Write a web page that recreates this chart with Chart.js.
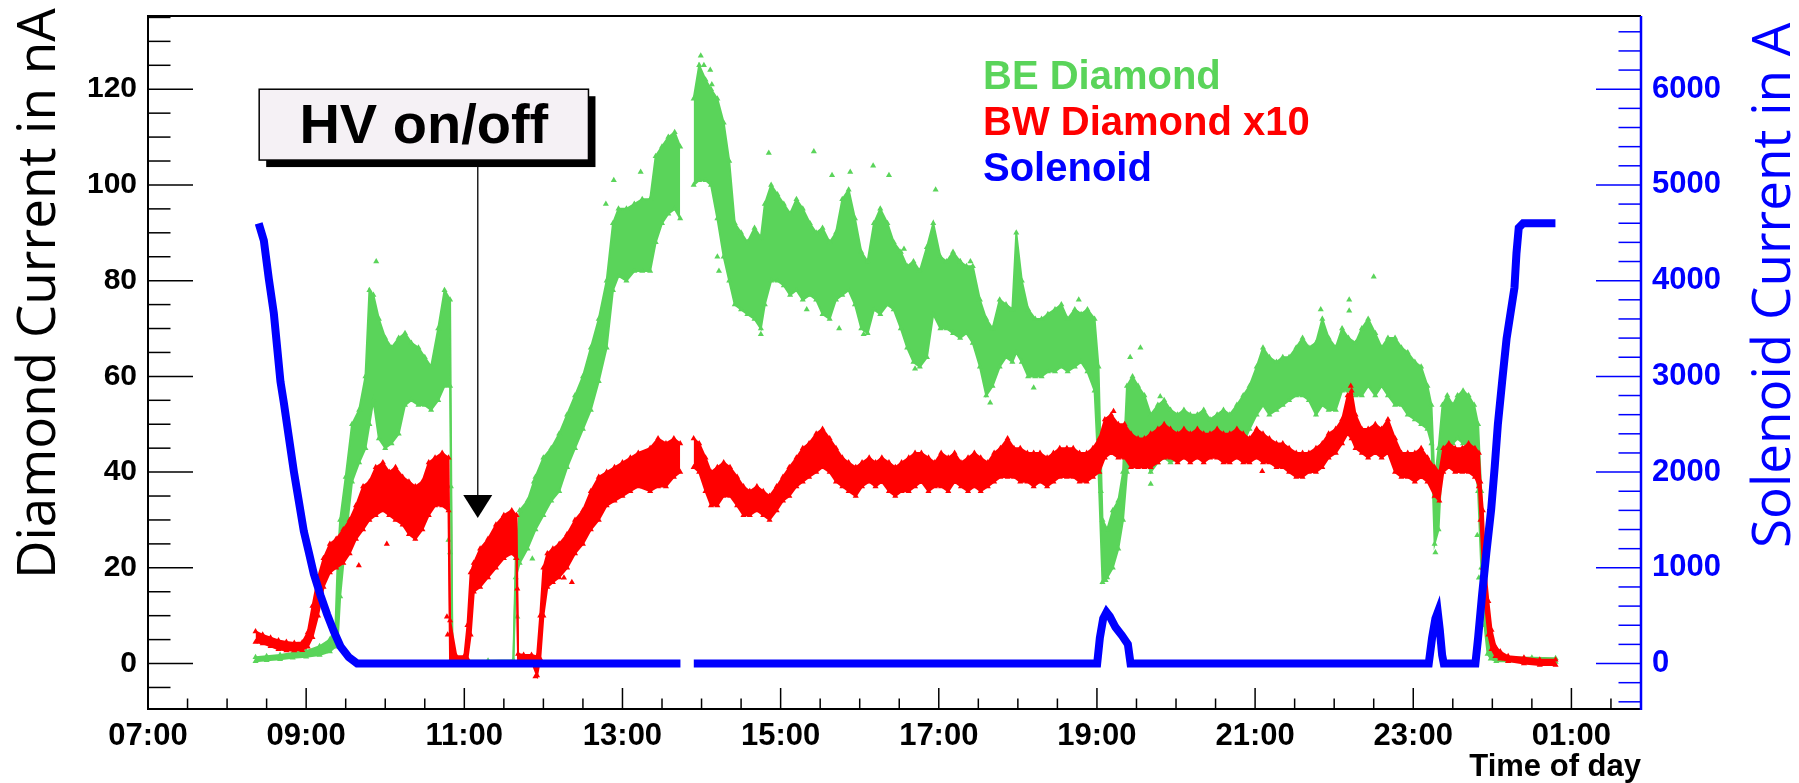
<!DOCTYPE html>
<html>
<head>
<meta charset="utf-8">
<title>Diamond and solenoid currents</title>
<script src="https://cdn.jsdelivr.net/npm/chart.js@4.4.1/dist/chart.umd.min.js"></script>
<style>
  html, body { margin: 0; padding: 0; background: #fff; }
  #wrap { width: 1799px; height: 783px; position: relative; }
</style>
</head>
<body>
<div id="wrap"><canvas id="chart"></canvas></div>
<script>
// ===== DATA =====
// time is in hours of the day, values past 24 belong to the next day
const hourTicks  = [7, 9, 11, 13, 15, 17, 19, 21, 23, 25];
const hourLabels = ["07:00", "09:00", "11:00", "13:00", "15:00", "17:00", "19:00", "21:00", "23:00", "01:00"];
const nATicks    = [0, 20, 40, 60, 80, 100, 120];
const ampTicks   = [0, 1000, 2000, 3000, 4000, 5000, 6000];

// BE diamond (nA): band of readings, lower and upper edge
const beTime = [8.36, 8.50, 8.67, 8.83, 9.00, 9.17, 9.30, 9.37, 9.40, 9.43, 9.50, 9.58, 9.67, 9.75, 9.80, 9.85, 9.92,
  10.00, 10.08, 10.17, 10.25, 10.33, 10.42, 10.50, 10.58, 10.67, 10.75, 10.82, 10.85, 11.00, 11.30, 11.62,
  11.65, 11.70, 11.80, 11.90, 12.00, 12.10, 12.20, 12.30, 12.40, 12.50, 12.60, 12.70, 12.80, 12.88, 12.95,
  13.05, 13.15, 13.25, 13.35, 13.42, 13.50, 13.58, 13.66, 13.73, 13.81, 13.90, 13.97, 14.05, 14.12, 14.20,
  14.28, 14.35, 14.42, 14.50, 14.58, 14.67, 14.75, 14.80, 14.88, 14.96, 15.04, 15.12, 15.20, 15.28, 15.37,
  15.45, 15.53, 15.62, 15.70, 15.78, 15.86, 15.94, 16.02, 16.10, 16.18, 16.26, 16.35, 16.43, 16.52, 16.60,
  16.68, 16.76, 16.85, 16.93, 17.02, 17.10, 17.18, 17.27, 17.35, 17.43, 17.52, 17.60, 17.68, 17.77, 17.85,
  17.93, 17.98, 18.05, 18.13, 18.22, 18.30, 18.38, 18.47, 18.55, 18.63, 18.72, 18.80, 18.88, 18.97, 19.02,
  19.07, 19.13, 19.20, 19.27, 19.33, 19.38, 19.45, 19.52, 19.60, 19.68, 19.77, 19.85, 19.93, 20.02, 20.10,
  20.18, 20.27, 20.35, 20.43, 20.52, 20.60, 20.68, 20.77, 20.85, 20.93, 21.02, 21.10, 21.18, 21.27, 21.35,
  21.43, 21.52, 21.60, 21.68, 21.77, 21.85, 21.93, 22.02, 22.10, 22.18, 22.27, 22.35, 22.43, 22.52, 22.60,
  22.68, 22.77, 22.85, 22.93, 23.02, 23.10, 23.18, 23.23, 23.27, 23.32, 23.37, 23.43, 23.50, 23.56, 23.63,
  23.70, 23.77, 23.82, 23.86, 23.90, 23.94, 23.98, 24.05, 24.20, 24.50, 24.80];
const beLow = [0.5, 0.7, 0.9, 1.2, 1.4, 1.8, 2.5, 3.5, 5, 14, 26, 38, 42, 45, 50, 55, 47,
  45, 46, 48, 54, 55, 54, 54, 53, 55, 58, 58, 0, 0, 0, 0.1,
  18, 21, 24, 28, 31, 34, 36, 41, 45, 49, 53, 59, 66, 78, 81,
  80, 82, 82, 82, 88, 92, 94, 95, 93, null, 100, 101, 101, 100, 93,
  85, 80, 75, 74, 73, 72, 70, 75, 80, 80, 79, 77, 78, 76, 77,
  76, 73, 72, 76, 77, 78, 75, 70, 69, 74, 73, 75, 74, 70, 66,
  63, 62, 64, 73, 70, 70, 69, 68, 69, 67, 62, 56, 58, 62, 64,
  63, 65, 63, 60, 60, 60, 61, 61, 62, 61, 62, 63, 61, 57, 40,
  17, 18, 20, 24, 30, 40, 45, 46, 44, 40, 42, 43, 42, 43, 44,
  44, 45, 45, 44, 44, 44, 45, 44, 46, 49, 52, 54, 52, 53, 54,
  55, 56, 56, 55, 52, 54, 53, 53, 57, 57, 56, 56, 58, 56, 58,
  56, 54, 54, 52, 51, 50, 49, 46, 25, 28, 45, 46, 46, 47, 46,
  46, 44, 36, 20, 8, 2, 1, 0.5, 0.5, 0.4, 0.3];
const beHigh = [1.3, 1.5, 1.8, 2.2, 2.6, 3.6, 5.0, 7.5, 22, 30, 39, 50, 53, 60, 78, 77, 72,
  68, 66, 68, 69, 67, 66, 64, 62, 70, 78, 76, 0.6, 0.6, 0.6, 0.7,
  22, 32, 34, 39, 43, 45, 48, 52, 56, 60, 66, 72, 80, 92, 95,
  95, 96, 97, 97, 106, 108, 110, 111, 108, null, 118, 125, 122, 120, 118,
  113, 105, 92, 90, 88, 91, 89, 96, 100, 98, 96, 94, 97, 95, 92,
  90, 91, 88, 90, 97, 99, 93, 86, 84, 92, 95, 92, 88, 86, 83,
  84, 82, 87, 92, 85, 84, 86, 84, 83, 83, 76, 72, 70, 76, 75,
  74, 90, 80, 74, 72, 72, 73, 74, 75, 72, 74, 73, 74, 72, 62,
  30, 28, 32, 34, 40, 58, 60, 58, 56, 52, 54, 55, 53, 52, 53,
  52, 52, 53, 51, 52, 53, 52, 54, 56, 58, 62, 66, 64, 63, 64,
  64, 66, 68, 66, 67, 72, 68, 66, 70, 68, 67, 70, 72, 69, 66,
  68, 68, 66, 65, 63, 62, 58, 54, 38, 45, 54, 56, 54, 56, 57,
  56, 54, 50, 36, 20, 10, 3, 1.8, 1.3, 1.2, 1.1];
const beSpotTime = [9.886, 10.78, 10.83, 10.80, 10.82, 11.67, 11.88, 11.86, 12.79, 12.89, 13.23, 13.99, 14.03,
  14.11, 14.13, 14.20, 14.22, 14.85, 15.42, 15.65, 15.88, 16.17, 16.37, 14.75, 15.33, 15.74, 16.05, 16.96,
  16.56, 17.27, 17.40, 18.77, 17.65, 18.20, 16.70, 19.11, 19.05, 19.42, 19.55, 22.50, 22.19, 22.19, 21.83,
  19.68, 19.80, 23.28, 23.27, 23.81, 23.83, 23.85];
const beSpotVal = [84, 33.5, 37, 25.8, 23.2, 9.8, 38, 21.9, 96, 101, 102.7, 127, 125,
  124, 121, 85, 82, 106.7, 107, 102, 102.7, 104, 102, 68.8, 74, 70, 68.8, 99,
  86.6, 84, 84, 76, 54.5, 57.6, 61.6, 17.4, 36, 64, 66, 80.8, 76, 73.7, 74,
  37.5, 55.8, 23.2, 34.8, 26.8, 17.9, 11.6];

// BW diamond, scaled x10 (nA)
const bwTime = [8.36, 8.45, 8.55, 8.65, 8.75, 8.85, 8.95, 9.02, 9.08, 9.15, 9.22, 9.30, 9.38, 9.47, 9.55, 9.63,
  9.72, 9.80, 9.88, 9.97, 10.05, 10.13, 10.22, 10.30, 10.38, 10.47, 10.55, 10.63, 10.72, 10.80, 10.82, 10.90,
  11.00, 11.04, 11.08, 11.12, 11.20, 11.30, 11.40, 11.50, 11.60, 11.66, 11.68, 11.75, 11.85, 11.92, 11.96,
  12.00, 12.05, 12.12, 12.20, 12.30, 12.40, 12.50, 12.60, 12.70, 12.80, 12.90, 13.00, 13.10, 13.20, 13.35,
  13.45, 13.55, 13.65, 13.73, 13.81, 13.90, 13.97, 14.05, 14.12, 14.20, 14.28, 14.36, 14.45, 14.53, 14.61,
  14.70, 14.78, 14.86, 14.95, 15.03, 15.11, 15.20, 15.28, 15.36, 15.45, 15.53, 15.62, 15.70, 15.78, 15.86,
  15.95, 16.03, 16.12, 16.20, 16.28, 16.37, 16.45, 16.53, 16.62, 16.70, 16.78, 16.87, 16.95, 17.03, 17.12,
  17.20, 17.28, 17.37, 17.45, 17.53, 17.62, 17.70, 17.78, 17.87, 17.95, 18.03, 18.12, 18.20, 18.28, 18.37,
  18.45, 18.53, 18.62, 18.70, 18.78, 18.87, 18.95, 19.03, 19.10, 19.18, 19.27, 19.35, 19.43, 19.52, 19.60,
  19.68, 19.77, 19.85, 19.93, 20.02, 20.10, 20.18, 20.27, 20.35, 20.43, 20.52, 20.60, 20.68, 20.77, 20.85,
  20.93, 21.02, 21.10, 21.18, 21.27, 21.35, 21.43, 21.52, 21.60, 21.68, 21.77, 21.85, 21.93, 22.02, 22.10,
  22.17, 22.22, 22.27, 22.35, 22.43, 22.52, 22.60, 22.68, 22.77, 22.85, 22.93, 23.02, 23.10, 23.18, 23.27,
  23.33, 23.38, 23.45, 23.53, 23.62, 23.70, 23.78, 23.83, 23.85, 23.88, 23.91, 23.95, 23.99, 24.04, 24.10,
  24.20, 24.40, 24.60, 24.80];
const bwLow = [4.5, 4.2, 3.6, 3.0, 2.7, 2.7, 2.8, 3.5, 5.5, 10, 16, 19, 20, 21, 23, 26,
  28, 30, 31, 32, 31, 30, 29, 27, 26, 28, 31, 33, 33, 32, 0.5, 0.3,
  0.3, 1, 6, 15, 16, 18, 20, 22, 23, 22, 0.5, 0.8, 0.5, -2.5, 1,
  10, 16, 17, 18, 20, 23, 25, 28, 30, 33, 34, 35, 36, 37, 36,
  37, 37, 39, 40, null, 41, 40, 36, 33, 33, 35, 35, 33, 31, 31,
  32, 31, 30, 32, 34, 35, 37, 38, 39, 40, 41, 40, 38, 37, 36,
  35, 37, 38, 37, 38, 36, 35, 36, 36, 37, 38, 36, 37, 37, 36,
  38, 37, 36, 37, 36, 37, 38, 39, 39, 39, 38, 38, 37, 38, 37,
  38, 39, 39, 39, 38, 38, 39, 40, 43, 44, 43, 43, 41, 41, 41,
  41, 42, 43, 43, 42, 43, 42, 43, 42, 43, 43, 42, 42, 43, 42,
  42, 43, 42, 42, 41, 41, 40, 39, 39, 40, 40, 41, 43, 44, 46,
  48, 47, 45, 44, 43, 44, 43, 44, 40, 39, 39, 38, 39, 38, 35,
  34, 40, 41, 40, 40, 40, 39, 37, 30, 20, 12, 6, 3, 1.5, 1,
  0.5, 0, -0.3, -0.3];
const bwHigh = [6.7, 6.0, 5.4, 4.8, 4.5, 4.3, 4.4, 6.5, 12, 18, 22, 25, 26, 28, 30, 33,
  37, 38, 41, 42, 40, 41, 39, 38, 37, 38, 42, 43, 44, 43, 9, 1.5,
  1.5, 8, 19, 21, 24, 26, 29, 31, 32, 31, 2, 1.8, 1.8, 1.5, 10,
  20, 23, 24, 25, 27, 30, 32, 36, 39, 40, 41, 42, 43, 44, 45,
  47, 46, 47, 46, null, 47, 46, 43, 40, 41, 42, 41, 39, 37, 36,
  37, 36, 35, 37, 39, 41, 43, 45, 46, 48, 49, 47, 45, 43, 42,
  41, 42, 43, 42, 43, 42, 41, 42, 43, 44, 44, 43, 42, 44, 43,
  44, 42, 43, 44, 43, 42, 44, 45, 47, 45, 45, 44, 44, 44, 43,
  44, 45, 45, 45, 44, 44, 45, 47, 51, 52, 50, 50, 48, 47, 47,
  48, 49, 50, 49, 48, 49, 48, 49, 48, 48, 49, 48, 48, 49, 48,
  47, 49, 48, 47, 46, 46, 45, 44, 44, 44, 45, 46, 48, 49, 51,
  56, 57, 52, 49, 49, 50, 49, 51, 47, 44, 44, 44, 45, 43, 41,
  40, 45, 46, 45, 45, 46, 45, 44, 38, 32, 20, 13, 7, 3.5, 2.5,
  1.5, 1.2, 0.8, 0.8];
const bwSpotTime = [10.78, 10.79, 11.67, 12.26, 12.36, 9.666, 10.02, 19.21, 22.21, 21.09, 11.90];
const bwSpotVal  = [9.8, 6, 15.6, 17.9, 17, 20.5, 25, 52.7, 58, 40.2, -2.7];

// solenoid current (A); null marks the readout gap
const solTime = [8.40, 8.465, 8.528, 8.591, 8.633, 8.675, 8.718, 8.781, 8.844, 8.907, 8.970, 9.034, 9.097,
  9.181, 9.265, 9.35, 9.434, 9.539, 9.645, 13.733, 13.81, 13.902, 19.003, 19.037, 19.079, 19.121, 19.163,
  19.235, 19.319, 19.391, 19.425, 23.196, 23.238, 23.28, 23.31, 23.335, 23.365, 23.386, 23.786, 23.82,
  23.87, 23.925, 23.985, 24.03, 24.07, 24.124, 24.18, 24.28, 24.305, 24.334, 24.39, 24.798];
const solAmp = [4598, 4419, 4018, 3660, 3303, 2946, 2723, 2366, 2009, 1696, 1384, 1161, 937,
  714, 513, 335, 179, 67, 0, 0, null, 0, 0, 268, 469, 536, 491,
  379, 290, 201, 0, 0, 268, 469, 536, 357, 89, 0, 0, 268,
  714, 1161, 1607, 2053, 2500, 2946, 3393, 3928, 4285, 4553, 4600, 4600];

// ===== STYLE =====
const GREEN = "rgb(90,212,90)";
const RED   = "#ff0000";
const BLUE  = "#0000ff";
const TICK_FONT = "'Liberation Sans', Arial, Helvetica, sans-serif";
const TITLE_FONT = "'Open Sans', 'Noto Sans', sans-serif";

function pts(t, v) {
  return t.map((x, i) => ({ x: x, y: v[i] }));
}

function edge(label, t, v, color, order, fill) {
  return {
    label: label, data: pts(t, v), yAxisID: "yL", order: order,
    borderColor: color, backgroundColor: color, borderWidth: 2,
    pointStyle: "triangle", pointRadius: 3.5, pointBackgroundColor: color, pointBorderWidth: 0,
    fill: fill, tension: 0, spanGaps: false
  };
}

function spots(label, t, v, color, order) {
  return {
    label: label, data: pts(t, v), yAxisID: "yL", order: order, showLine: false,
    pointStyle: "triangle", pointRadius: 3.5, pointBackgroundColor: color,
    pointBorderColor: color, pointBorderWidth: 0
  };
}

// ===== FRAME, INNER TICKS, TITLES, LEGEND, NOTE =====
const decor = {
  id: "decor",
  afterDraw(chart) {
    const ctx = chart.ctx;
    const ca = chart.chartArea;
    const xs = chart.scales.x, yl = chart.scales.yL, ya = chart.scales.yA;

    function seg(x1, y1, x2, y2) {
      ctx.beginPath(); ctx.moveTo(x1, y1); ctx.lineTo(x2, y2); ctx.stroke();
    }

    ctx.save();
    ctx.lineWidth = 1.5;
    ctx.strokeStyle = "#000";
    for (let v = -5; v <= 135; v += 5) {
      const y = yl.getPixelForValue(v);
      if (y < ca.top || y > ca.bottom) continue;
      seg(ca.left, y, ca.left + (v % 20 === 0 ? 45 : 22.5), y);
    }
    for (let t = 7; t <= 25.8; t += 0.5) {
      const x = xs.getPixelForValue(t);
      seg(x, ca.bottom, x, ca.bottom - (hourTicks.includes(t) ? 21 : 10.5));
    }
    ctx.strokeStyle = BLUE;
    for (let a = -400; a <= 6700; a += 200) {
      const y = ya.getPixelForValue(a);
      if (y < ca.top || y > ca.bottom) continue;
      seg(ca.right, y, ca.right - (a % 1000 === 0 ? 45 : 22.5), y);
    }

    // frame
    ctx.lineWidth = 2;
    ctx.strokeStyle = "#000";
    ctx.beginPath();
    ctx.moveTo(ca.right, ca.top); ctx.lineTo(ca.left, ca.top);
    ctx.lineTo(ca.left, ca.bottom); ctx.lineTo(ca.right, ca.bottom);
    ctx.stroke();
    ctx.strokeStyle = BLUE;
    ctx.lineWidth = 2.5;
    seg(ca.right, ca.top, ca.right, ca.bottom + 1);

    // axis titles
    ctx.font = "53px " + TITLE_FONT;
    ctx.textAlign = "left";
    ctx.textBaseline = "alphabetic";
    ctx.fillStyle = "#000";
    ctx.save();
    ctx.translate(55, 579);
    ctx.rotate(-Math.PI / 2);
    ctx.fillText("Diamond Current in nA", 0, 0);
    ctx.restore();
    ctx.fillStyle = BLUE;
    ctx.save();
    ctx.translate(1790, 548);
    ctx.rotate(-Math.PI / 2);
    ctx.fillText("Solenoid Current in A", 0, 0);
    ctx.restore();

    ctx.fillStyle = "#000";
    ctx.font = "bold 31px " + TICK_FONT;
    ctx.textAlign = "right";
    ctx.fillText("Time of day", ca.right, 776);

    // legend
    const ds = chart.data.datasets;
    const rows = [[ds[4].label, GREEN], [ds[1].label, RED], [ds[0].label, BLUE]];
    ctx.font = "bold 40px " + TICK_FONT;
    ctx.textAlign = "left";
    rows.forEach((r, i) => {
      ctx.fillStyle = r[1];
      ctx.fillText(r[0], 983, 89 + i * 46);
    });

    // HV on/off note with arrow
    const bx0 = xs.getPixelForValue(8.406), bx1 = xs.getPixelForValue(12.57);
    const by0 = yl.getPixelForValue(120.0), by1 = yl.getPixelForValue(105.2);
    ctx.fillStyle = "#000";
    ctx.fillRect(bx0 + 7, by0 + 7, bx1 - bx0, by1 - by0);
    ctx.fillStyle = "#f5f1f5";
    ctx.fillRect(bx0, by0, bx1 - bx0, by1 - by0);
    ctx.lineWidth = 1.5;
    ctx.strokeStyle = "#000";
    ctx.strokeRect(bx0, by0, bx1 - bx0, by1 - by0);
    ctx.fillStyle = "#000";
    ctx.font = "bold 56px " + TICK_FONT;
    ctx.textAlign = "center";
    ctx.fillText("HV on/off", (bx0 + bx1) / 2, by1 - 17);

    const ax = xs.getPixelForValue(11.17);
    const tip = yl.getPixelForValue(30.4);
    ctx.strokeStyle = "#222";
    ctx.lineWidth = 1.5;
    seg(ax, by1 + 7, ax, tip - 20);
    ctx.beginPath();
    ctx.moveTo(ax - 14.5, tip - 23);
    ctx.lineTo(ax + 14.5, tip - 23);
    ctx.lineTo(ax, tip);
    ctx.closePath();
    ctx.fill();
    ctx.restore();
  }
};

// ===== CHART =====
new Chart(document.getElementById("chart"), {
  type: "line",
  data: {
    datasets: [
      {
        label: "Solenoid", data: pts(solTime, solAmp), yAxisID: "yA", order: 1,
        borderColor: BLUE, borderWidth: 8, pointRadius: 0, fill: false, tension: 0, spanGaps: false
      },
      edge("BW Diamond x10", bwTime, bwLow, RED, 2, false),
      edge("BW upper", bwTime, bwHigh, RED, 2, "-1"),
      spots("BW spots", bwSpotTime, bwSpotVal, RED, 2),
      edge("BE Diamond", beTime, beLow, GREEN, 3, false),
      edge("BE upper", beTime, beHigh, GREEN, 3, "-1"),
      spots("BE spots", beSpotTime, beSpotVal, GREEN, 3)
    ]
  },
  options: {
    responsive: true,
    maintainAspectRatio: false,
    animation: false,
    events: [],
    layout: { padding: { top: 16, left: 0, right: 0, bottom: 0 } },
    plugins: { legend: { display: false }, tooltip: { enabled: false } },
    scales: {
      x: {
        type: "linear", min: 7, max: 25.88,
        grid: { display: false, drawTicks: false }, border: { display: false },
        afterBuildTicks: s => { s.ticks = hourTicks.map(v => ({ value: v })); },
        ticks: {
          autoSkip: false, maxRotation: 0, padding: 9, color: "#000",
          font: { family: TICK_FONT, size: 31, weight: "bold" },
          callback: v => hourLabels[hourTicks.indexOf(v)]
        },
        afterFit: s => { s.height = 74; s.paddingLeft = 0; s.paddingRight = 0; }
      },
      yL: {
        position: "left", min: -9.5, max: 135.3,
        grid: { display: false, drawTicks: false }, border: { display: false },
        afterBuildTicks: s => { s.ticks = nATicks.map(v => ({ value: v })); },
        ticks: {
          padding: 11, color: "#000",
          font: { family: TICK_FONT, size: 30, weight: "bold" },
          callback: v => String(v)
        },
        afterFit: s => { s.width = 148; s.paddingTop = 0; s.paddingBottom = 0; }
      },
      yA: {
        position: "right", min: -475, max: 6765,
        grid: { display: false, drawTicks: false }, border: { display: false },
        afterBuildTicks: s => { s.ticks = ampTicks.map(v => ({ value: v })); },
        ticks: {
          padding: 11, color: BLUE,
          font: { family: TICK_FONT, size: 31, weight: "bold" },
          callback: v => String(v)
        },
        afterFit: s => { s.width = 158; s.paddingTop = 0; s.paddingBottom = 0; }
      }
    }
  },
  plugins: [decor]
});
</script>
</body>
</html>
